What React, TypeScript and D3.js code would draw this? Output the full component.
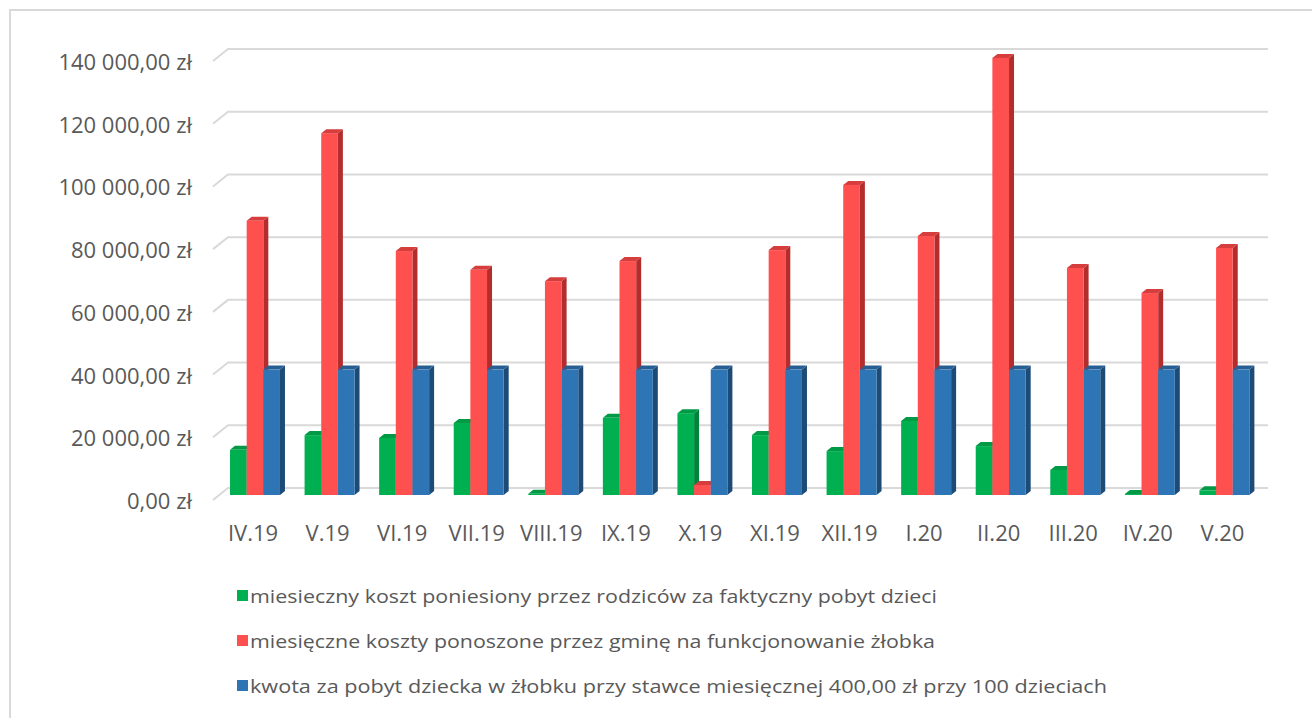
import React from 'react';
import * as d3 from 'd3';

const categories = ['IV.19', 'V.19', 'VI.19', 'VII.19', 'VIII.19', 'IX.19', 'X.19', 'XI.19', 'XII.19', 'I.20', 'II.20', 'III.20', 'IV.20', 'V.20'];
const parents = [14400, 19100, 18200, 23000, 400, 24600, 26100, 19100, 14000, 23600, 15600, 8000, 300, 1500];
const gmina = [87500, 115400, 77800, 71800, 68200, 74600, 3200, 78100, 98900, 82600, 139400, 72400, 64400, 78800];
const kwota = [40000, 40000, 40000, 40000, 40000, 40000, 40000, 40000, 40000, 40000, 40000, 40000, 40000, 40000];
const yTicks = [0, 20000, 40000, 60000, 80000, 100000, 120000, 140000];
const seriesNames = [
  'miesieczny koszt poniesiony przez rodziców za faktyczny pobyt dzieci',
  'miesięczne koszty ponoszone przez gminę na funkcjonowanie żłobka',
  'kwota za pobyt dziecka w żłobku przy stawce miesięcznej 400,00 zł przy 100 dzieciach',
];
const seriesValues = [parents, gmina, kwota];
const colors = [
  { front: '#00b050', side: '#00843c', top: '#009a46' },
  { front: '#ff5050', side: '#b32d2d', top: '#d63d3d' },
  { front: '#2e75b6', side: '#1d4b76', top: '#275f94' },
];

const W = 1312;
const H = 718;
const DX = 5; // bar depth
const DY = 4;
const BACK_DX = 15; // wall offset
const BACK_DY = 12;

const fmt = (v: number) => {
  const s = d3.format(',.2f')(v).replace(/,/g, ' ').replace('.', ',');
  return `${s} zł`;
};

const App: React.FC = () => {
  const x = d3.scaleBand<string>().domain(categories).range([205.4, 1274]).padding(0.33);
  const inner = d3.scaleBand<number>().domain([0, 1, 2]).range([0, x.bandwidth()]);
  const y = d3.scaleLinear().domain([0, 140000]).range([495, 56]);
  const base = y(0);
  const gridX0 = 213;
  const gridX1 = 1268;

  return (
    <svg width={W} height={H} style={{ position: 'absolute', left: 0, top: 0 }} fontFamily="'Open Sans', sans-serif">
      <rect x={0} y={0} width={W} height={H} fill="#fff" />
      <path d={`M10,${H} V10 H${W}`} fill="none" stroke="#d9d9d9" strokeWidth={2} />

      {/* gridlines on the back wall */}
      {yTicks.map(t => {
        const yb = y(t) - 7;
        return (
          <g key={t}>
            <path d={`M${gridX0},${yb + BACK_DY} L${gridX0 + BACK_DX},${yb} H${gridX1}`} fill="none" stroke="#d9d9d9" strokeWidth={2} />
            <text x={192} y={yb + BACK_DY} textAnchor="end" dominantBaseline="central" fontSize={22} fill="#595959">
              {fmt(t)}
            </text>
          </g>
        );
      })}

      {/* 3D columns */}
      {categories.map((c, i) => (
        <g key={c}>
          {seriesValues.map((vals, s) => {
            const x0 = (x(c) || 0) + (inner(s) || 0);
            const w = inner.bandwidth();
            const yt = y(vals[i]);
            const col = colors[s];
            return (
              <g key={s}>
                <polygon
                  points={`${x0 + w},${yt} ${x0 + w + DX},${yt - DY} ${x0 + w + DX},${base - DY} ${x0 + w},${base}`}
                  fill={col.side}
                />
                <polygon
                  points={`${x0},${yt} ${x0 + DX},${yt - DY} ${x0 + w + DX},${yt - DY} ${x0 + w},${yt}`}
                  fill={col.top}
                />
                <rect x={x0} y={yt} width={w} height={base - yt} fill={col.front} />
              </g>
            );
          })}
          <text x={(x(c) || 0) + x.bandwidth() / 2 - 2} y={532} textAnchor="middle" dominantBaseline="central" fontSize={22} fill="#595959">
            {c}
          </text>
        </g>
      ))}

      {/* legend */}
      {seriesNames.map((n, s) => {
        const ly = 596 + s * 45;
        const widths = [687, 685, 857];
        return (
          <g key={n}>
            <rect x={237} y={ly - 6} width={11} height={11} fill={colors[s].front} />
            <text x={250} y={ly} dominantBaseline="central" fontSize={19} fill="#595959" textLength={widths[s]} lengthAdjust="spacingAndGlyphs">
              {n}
            </text>
          </g>
        );
      })}
    </svg>
  );
};

export default App;
